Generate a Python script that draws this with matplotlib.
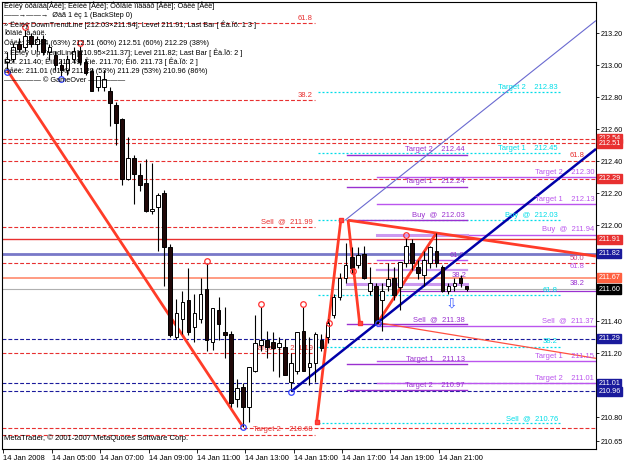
import numpy as np
import matplotlib
matplotlib.use("Agg")
import matplotlib.pyplot as plt

plt.rcParams['font.family'] = ['Liberation Sans', 'DejaVu Sans']

# --- price data (15 min bars, 14 Jan 2008 03:00 .. 22:00) ---
opens = [213.02, 213.04, 213.13, 213.11, 213.18, 213.13, 213.16, 213.08, 213.06, 213.00,
         212.97, 213.04, 213.09, 213.02, 212.96, 212.86, 212.86, 212.84, 212.75, 212.66,
         212.29, 212.42, 212.31, 212.26, 212.09, 212.11, 212.20, 211.86, 211.30, 211.41,
         211.53, 211.36, 211.41, 211.60, 211.27, 211.47, 211.33, 211.32, 210.91, 210.99,
         210.86, 211.09, 211.25, 211.28, 211.27, 211.24, 211.24, 211.02, 211.09, 211.34,
         211.11, 211.14, 211.28, 211.30, 211.44, 211.55, 211.67, 211.80, 211.75, 211.82,
         211.59, 211.62, 211.53, 211.62, 211.67, 211.61, 211.76, 211.89, 211.74, 211.69,
         211.76, 211.84, 211.74, 211.59, 211.62, 211.67, 211.62]
highs = [213.08, 213.14, 213.17, 213.22, 213.20, 213.18, 213.19, 213.13, 213.09, 213.04,
         213.06, 213.11, 213.12, 213.04, 212.98, 212.93, 212.97, 212.86, 212.77, 212.67,
         212.55, 212.44, 212.39, 212.41, 212.39, 212.20, 212.22, 211.88, 211.54, 211.59,
         211.73, 211.57, 211.67, 211.76, 211.48, 211.55, 211.49, 211.34, 211.04, 211.01,
         211.11, 211.44, 211.49, 211.34, 211.33, 211.30, 211.29, 211.20, 211.33, 211.49,
         211.30, 211.33, 211.32, 211.41, 211.57, 211.70, 211.89, 211.86, 211.86, 211.87,
         211.74, 211.64, 211.64, 211.76, 211.74, 211.77, 211.92, 211.91, 211.78, 211.84,
         211.87, 211.95, 211.75, 211.64, 211.67, 211.69, 211.62]
lows = [212.97, 213.02, 213.08, 213.09, 213.11, 213.09, 213.06, 213.03, 212.97, 212.93,
        212.94, 213.01, 213.00, 212.94, 212.84, 212.84, 212.84, 212.62, 212.50, 212.25,
        212.28, 212.13, 212.21, 212.08, 212.07, 211.84, 211.62, 211.30, 211.29, 211.32,
        211.31, 211.27, 211.39, 211.21, 211.22, 211.28, 211.17, 210.86, 210.86, 210.74,
        210.77, 211.08, 211.21, 211.17, 211.09, 211.05, 211.06, 210.96, 211.07, 211.09,
        211.00, 211.02, 211.21, 211.26, 211.42, 211.53, 211.64, 211.70, 211.73, 211.66,
        211.56, 211.39, 211.34, 211.59, 211.53, 211.47, 211.74, 211.72, 211.66, 211.62,
        211.73, 211.74, 211.58, 211.57, 211.59, 211.61, 211.59]
closes = [213.04, 213.11, 213.10, 213.18, 213.13, 213.16, 213.08, 213.11, 213.00, 212.97,
          213.04, 213.09, 213.02, 212.95, 212.84, 212.93, 212.91, 212.76, 212.64, 212.29,
          212.42, 212.32, 212.25, 212.09, 212.10, 212.19, 211.86, 211.31, 211.45, 211.52,
          211.33, 211.45, 211.57, 211.28, 211.48, 211.38, 211.31, 210.89, 210.98, 210.86,
          211.11, 211.26, 211.28, 211.24, 211.23, 211.26, 211.06, 211.14, 211.33, 211.09,
          211.14, 211.32, 211.23, 211.39, 211.55, 211.67, 211.75, 211.73, 211.81, 211.67,
          211.64, 211.39, 211.59, 211.66, 211.56, 211.77, 211.87, 211.76, 211.70, 211.78,
          211.86, 211.76, 211.59, 211.62, 211.64, 211.64, 211.60]

time_labels = ["14 Jan 2008", "14 Jan 05:00", "14 Jan 07:00", "14 Jan 09:00", "14 Jan 11:00",
               "14 Jan 13:00", "14 Jan 15:00", "14 Jan 17:00", "14 Jan 19:00", "14 Jan 21:00"]
time_bars = [0, 8, 16, 24, 32, 40, 48, 56, 64, 72]

price_ticks = [213.20, 213.00, 212.80, 212.60, 212.40, 212.20, 212.00, 211.40, 211.20, 210.80, 210.65]

# zigzag / pattern lines (bar, price)
zz_main = [(0, 212.97), (39, 210.74)]
zz_up = [(51.2, 210.77), (55.2, 212.03)]
zz_down = [(56.4, 212.03), (58.3, 211.39)]
zz_up2 = [(61.3, 211.39), (71, 211.95)]
down_tl = [(56.4, 212.03), (71, 211.95)]
up_tl = [(47, 210.96), (61.3, 211.39)]

RED = '#e83030'
NAVY = '#1a1a9c'
CYAN = '#00dde8'
PURP = '#9a30d0'
PURP2 = '#bb55ee'
LPURP = '#cc99f0'

red_full = [212.54, 212.51, 212.40, 212.29, 211.76, 210.73]
red_left = [(213.26, "61.8"), (212.78, "38.2"), (211.99, "Sell  @  211.99"),
            (211.20, "Target 1    211.19"), (210.69, "Target 2    210.68")]
navy_full = [211.29, 211.01, 210.96]
cyan_lines = [(212.83, "Target 2    212.83"), (212.45, "Target 1    212.45"),
              (212.03, "Buy  @  212.03"), (211.56, "61.8"), (211.24, "38.2"),
              (210.76, "Sell  @  210.76")]
purple_a = [(212.44, "Target 2    212.44"), (212.24, "Target 1    212.24"),
            (212.03, "Buy  @  212.03"), (211.38, "Sell  @  211.38"),
            (211.13, "Target 1    211.13"), (210.97, "Target 2    210.97")]
purple_b = [(212.30, "Target 2    212.30"), (212.13, "Target 1    212.13"),
            (211.94, "Buy  @  211.94"), (211.37, "Sell  @  211.37"),
            (211.15, "Target 1    211.15"), (211.01, "Target 2    211.01")]

price_boxes = [(212.54, RED), (212.51, RED), (212.29, RED), (211.91, RED), (211.82, NAVY),
               (211.67, '#ff6040'), (211.60, 'black'), (211.29, NAVY), (211.01, NAVY),
               (210.96, NAVY)]

info_lines = [
    "Ëèíèÿ òðåíäà[Âêë]; Ëèíèè [Âêë]; Óðîâíè ïîääåð [Âêë]; Öåëè [Âêë]",
    "——→——→  Øàã 1 èç 1 (BackStep 0)",
    "» Ëèíèÿ DownTrendLine [212.03×211.94]; Level 211.91; Last Bar [ Êà.Ïð: 1 3 ]",
    "Ïðîáîé íå áûë.",
    "Öåëè: 212.84 (63%) 212.51 (60%) 212.51 (60%) 212.29 (38%)",
    "» Ëèíèÿ Up TrendLine [210.95×211.37]; Level 211.82; Last Bar [ Êà.Ïð: 2 ]",
    "Êóï. 211.40; Êìí. 211.49; Êìè. 211.70; Êìõ. 211.73 [ Êà.Ïð: 2 ]",
    "Öåëè: 211.01 (61%) 211.29 (53%) 211.29 (53%) 210.96 (86%)",
    "————— © GameOver —————",
]

FS = 5.5
XL, XR = -0.83, 97.4
FULL = (XL, XR)

fig = plt.figure(figsize=(6.25, 4.61), dpi=100)
ax = fig.add_axes([2 / 625, 12 / 461, 594 / 625, 447 / 461])
ax.set_xlim(XL, XR)
ax.set_ylim(210.60, 213.394)


def hline(p, x0, x1, color, ls='-', lw=1.0, label=None, lcolor=None, z=1):
    ax.plot([x0, x1], [p, p], color=color, ls=ls, lw=lw, zorder=z)
    if label:
        ax.text(x1 - 0.3, p + 0.008, label, color=lcolor or color, fontsize=FS,
                ha='right', va='bottom', zorder=5)


def seg(pts, color, lw, extend=None, z=3):
    (x0, y0), (x1, y1) = pts
    if extend is not None:
        k = (y1 - y0) / (x1 - x0)
        x1, y1 = extend, y0 + k * (extend - x0)
    ax.plot([x0, x1], [y0, y1], color=color, lw=lw, zorder=z, solid_capstyle='butt')


dash = (0, (3.5, 1.8))
dot = (0, (1.6, 1.6))

for p in red_full:
    hline(p, *FULL, color=RED, ls=dash, lw=0.8)
for p, lab in red_left:
    hline(p, XL, 50.9, color=RED, ls=dash, lw=0.8, label=lab)
for p in navy_full:
    hline(p, *FULL, color=NAVY, ls=dash, lw=0.8)
for p, lab in cyan_lines:
    hline(p, 51.4, 91.4, color=CYAN, ls=dot, lw=0.9, label=lab)
for p, lab in purple_a:
    hline(p, 56.2, 76.0, color=PURP, lw=1.0, label=lab)
for p, lab in purple_b:
    hline(p, 61.2, XR, color=PURP2, lw=1.0, label=lab)

hline(211.94, 61.2, 76.0, color=LPURP, lw=2.2)
hline(211.78, 61.2, 76.0, color=PURP2, lw=1.0)
hline(211.72, 61.2, 76.0, color=LPURP, lw=1.6)
hline(211.63, 56.2, 76.0, color=LPURP, lw=2.2)
hline(211.59, 65.0, XR, color=PURP, lw=0.9)

hline(211.91, *FULL, color=RED, lw=1.0)
hline(211.82, *FULL, color='#7878c8', lw=2.0)
hline(211.67, *FULL, color='#ff8060', lw=1.1)
hline(211.60, *FULL, color='#b0b0b0', lw=0.8)

# small fib labels
ax.text(95.5, 212.41, "61.8", color=RED, fontsize=FS, ha='right', va='bottom')
ax.text(95.5, 211.77, "50.0", color='#d04080', fontsize=FS, ha='right', va='bottom')
ax.text(95.5, 211.72, "61.8", color=PURP2, fontsize=FS, ha='right', va='bottom')
ax.text(95.5, 211.61, "38.2", color=PURP, fontsize=FS, ha='right', va='bottom')
ax.text(74.5, 211.79, "61.8", color=PURP, fontsize=FS, ha='center', va='bottom')
ax.text(74.8, 211.665, "38.2", color=PURP, fontsize=FS, ha='center', va='bottom')

# candles
x = np.arange(len(opens))
o = np.array(opens); h = np.array(highs); l = np.array(lows); c = np.array(closes)
ax.vlines(x, l, h, color='black', lw=0.8, zorder=6)
up = c >= o
body = np.maximum(np.abs(c - o), 0.004)
ax.bar(x[up], body[up], bottom=o[up], width=0.6, color='white', edgecolor='black',
       lw=0.7, zorder=7)
ax.bar(x[~up], body[~up], bottom=c[~up], width=0.6, color='#200808', edgecolor='black',
       lw=0.7, zorder=7)

# trend lines and zigzag
seg(zz_main, '#ff3c28', 2.0)
seg(zz_up, '#ff3c28', 2.0)
seg(zz_down, '#ff3c28', 2.0)
seg(zz_up2, '#ff3c28', 2.0)
seg(down_tl, '#ff3c28', 2.0, extend=XR)
seg([(61.3, 211.39), (71, 211.33)], '#ff5040', 0.9, extend=XR)
seg(up_tl, '#0000a8', 1.8, extend=XR, z=4)
k_up = (up_tl[1][1] - up_tl[0][1]) / (up_tl[1][0] - up_tl[0][0])
seg([(55.9, 212.03), (56.9, 212.03 + k_up)], '#6a6ad0', 0.8, extend=XR)

# markers
ax.plot([3, 12, 33, 42, 49, 66, 53.2, 57.2], [213.235, 213.135, 211.775, 211.505, 211.505,
        211.935, 211.39, 211.71], 'o', ms=4, mfc='none', mec='#ff3030', mew=0.9, zorder=8)
ax.plot([0, 9, 39, 47, 61.3], [212.955, 212.915, 210.735, 210.955, 211.385], 'o', ms=4,
        mfc='none', mec='#3040ff', mew=0.9, zorder=8)
ax.plot([51.2, 55.2, 58.3], [210.77, 212.03, 211.39], 's', ms=3.5, mfc='#ff5040',
        mec='#ff3030', zorder=8)
ax.text(73.5, 211.555, "⇩", color='#4060ff', fontsize=10, ha='center', va='top', zorder=8,
        family='DejaVu Sans')

# axes styling
for s in ax.spines.values():
    s.set_color('black')
    s.set_linewidth(0.8)
ax.yaxis.tick_right()
ax.set_yticks(price_ticks)
ax.set_yticklabels([f"{p:.2f}" for p in price_ticks])
ax.tick_params(axis='y', length=2.5, width=0.6, labelsize=5.2, pad=1)
ax.set_xticks([b - 0.6 for b in time_bars])
ax.set_xticklabels(time_labels, ha='left')
ax.tick_params(axis='x', length=3, width=0.6, labelsize=FS, pad=1)

for p, col in price_boxes:
    ax.annotate(f"{p:.2f}", xy=(1, p), xycoords=('axes fraction', 'data'),
                xytext=(1.8, 0), textcoords='offset points', ha='left', va='center',
                fontsize=5.2, color='white', annotation_clip=False, zorder=10,
                bbox=dict(boxstyle='square,pad=0.15', fc=col, ec=col))

for i, t in enumerate(info_lines):
    fig.text(4 / 625, 1 - (6 + i * 9.3) / 461, t, fontsize=5.3, color='black',
             ha='left', va='center', zorder=10)
ax.text(0.004, 0.016, "MetaTrader, © 2001-2007 MetaQuotes Software Corp.",
        transform=ax.transAxes, fontsize=5.5, ha='left', va='bottom')

fig.savefig("out.png", dpi=100, facecolor='white')
